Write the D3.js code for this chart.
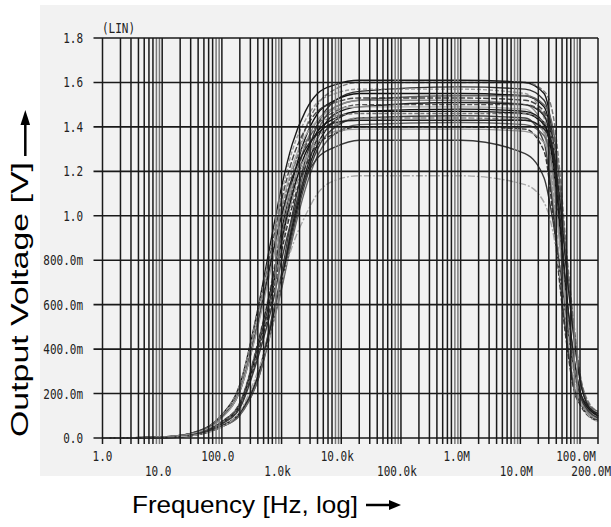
<!DOCTYPE html>
<html>
<head>
<meta charset="utf-8">
<script src="https://cdn.jsdelivr.net/npm/d3@7"></script>
<style>
  body { margin: 0; background: #fff; }
  .mono { font-family: "DejaVu Sans Mono", monospace; font-size: 11px; fill: #222; }
  .title { font-family: "Liberation Sans", Arial, sans-serif; font-size: 24px; fill: #000; }
</style>
</head>
<body>
<div id="chart"></div>
<script>
const freqs = [1, 10, 30, 100, 200, 400, 700, 1e3, 1.5e3, 2.5e3, 4e3, 8e3, 2e4,
               1e6, 1.2e7, 2.5e7, 3.5e7, 4.5e7, 6e7, 8e7, 1e8, 1.4e8, 2e8];

// Output voltage (V) of every run, one row per run
const runs = [
  [0,.005,.021,.105,.24,.58,.92,1.13,1.32,1.47,1.55,1.59,1.61, 1.61,1.60,1.55,1.35,1.03,.64,.35,.21,.14,.10],
  [0,.003,.016,.075,.16,.43,.72,.96,1.18,1.39,1.50,1.57,1.60, 1.60,1.60,1.56,1.46,1.22,.83,.50,.29,.16,.12],
  [0,.002,.011,.055,.114,.28,.55,.74,1.00,1.25,1.41,1.52,1.56, 1.58,1.57,1.52,1.33,1.01,.63,.35,.21,.13,.10],
  [0,.005,.020,.102,.24,.57,.89,1.10,1.29,1.43,1.51,1.55,1.57, 1.57,1.55,1.44,1.13,.80,.47,.24,.17,.11,.086],
  [0,.003,.016,.073,.155,.42,.70,.93,1.15,1.35,1.46,1.52,1.55, 1.55,1.54,1.49,1.30,.99,.62,.34,.20,.13,.10],
  [0,.002,.011,.054,.111,.28,.54,.72,.97,1.22,1.38,1.49,1.52, 1.54,1.54,1.50,1.40,1.17,.80,.48,.28,.15,.12],
  [0,.005,.020,.099,.23,.55,.87,1.07,1.25,1.39,1.47,1.51,1.53, 1.53,1.52,1.47,1.29,.98,.61,.34,.20,.13,.10],
  [0,.003,.015,.071,.152,.41,.68,.91,1.12,1.32,1.43,1.49,1.52, 1.52,1.50,1.40,1.09,.78,.46,.23,.17,.11,.084],
  [0,.002,.011,.053,.109,.27,.53,.71,.95,1.19,1.35,1.46,1.49, 1.51,1.50,1.45,1.27,.97,.60,.33,.20,.13,.098],
  [0,.003,.015,.071,.15,.41,.68,.90,1.11,1.31,1.41,1.47,1.50, 1.50,1.50,1.46,1.37,1.14,.78,.47,.27,.15,.11],
  [0,.004,.019,.097,.22,.54,.85,1.04,1.22,1.36,1.43,1.48,1.49, 1.49,1.48,1.37,1.07,.76,.45,.22,.16,.10,.082],
  [0,.001,.010,.052,.107,.27,.52,.70,.93,1.17,1.32,1.43,1.47, 1.48,1.47,1.42,1.24,.95,.59,.33,.19,.13,.096],
  [0,.003,.015,.069,.147,.40,.66,.88,1.09,1.28,1.38,1.44,1.47, 1.47,1.46,1.41,1.23,.94,.59,.32,.19,.12,.096],
  [0,.004,.019,.095,.22,.53,.83,1.02,1.20,1.33,1.40,1.45,1.46, 1.46,1.46,1.42,1.33,1.11,.76,.45,.26,.15,.11],
  [0,.001,.010,.051,.104,.26,.51,.68,.91,1.15,1.30,1.40,1.44, 1.45,1.44,1.33,1.04,.74,.44,.22,.16,.10,.080],
  [0,.003,.014,.068,.144,.39,.65,.86,1.07,1.25,1.35,1.41,1.44, 1.44,1.43,1.38,1.21,.92,.58,.32,.19,.12,.094],
  [0,.004,.019,.093,.21,.51,.82,1.00,1.17,1.30,1.37,1.42,1.43, 1.43,1.43,1.39,1.30,1.09,.74,.44,.26,.14,.11],
  [0,.001,.010,.050,.102,.26,.50,.67,.89,1.12,1.27,1.37,1.41, 1.42,1.41,1.36,1.19,.91,.57,.31,.18,.12,.092],
  [0,.003,.014,.066,.14,.38,.63,.84,1.04,1.22,1.32,1.37,1.40, 1.40,1.39,1.29,1.01,.71,.42,.21,.15,.098,.077],
  [0,.004,.018,.090,.21,.50,.79,.97,1.14,1.26,1.33,1.38,1.39, 1.39,1.38,1.33,1.17,.89,.56,.31,.18,.12,.090],
  [0,.003,.013,.063,.134,.36,.60,.80,.99,1.17,1.26,1.31,1.34, 1.34,1.28,1.17,.98,.78,.52,.30,.19,.12,.09],
  [0,.002,.01,.05,.12,.30,.50,.70,.86,1.00,1.10,1.16,1.18, 1.18,1.14,1.06,.93,.75,.50,.28,.17,.10,.075]
];

const runColors = ["#1a1a1a","#777","#333","#999","#111","#666","#444","#888","#222","#555","#aaa",
                   "#1a1a1a","#111","#777","#444","#888","#222","#666","#333","#999","#3a3a3a","#a8a8a8"];
const runDash = [null,"5,2",null,"4,2",null,null,"6,2",null,null,"5,2",null,
                 null,null,"4,2",null,"6,2",null,null,"5,2",null,null,"7,2,2,2"];

// Axis ticks
const yTicks = [0, 0.2, 0.4, 0.6, 0.8, 1.0, 1.2, 1.4, 1.6, 1.8];
const yTickLabels = ["0.0","200.0m","400.0m","600.0m","800.0m","1.0","1.2","1.4","1.6","1.8"];
const xTicksRow1 = [1, 100, 1e4, 1e6, 1e8];
const xLabelsRow1 = ["1.0","100.0","10.0k","1.0M","100.0M"];
const xTicksRow2 = [10, 1e3, 1e5, 1e7, 2e8];
const xLabelsRow2 = ["10.0","1.0k","100.0k","10.0M","200.0M"];

const width = 611, height = 527;

const svg = d3.select("#chart").append("svg")
    .attr("width", width)
    .attr("height", height);

// grey simulator panel
svg.append("rect")
    .attr("x", 40).attr("y", 5)
    .attr("width", 571).attr("height", 471)
    .attr("fill", "#f2f2f2");

const x = d3.scaleLog().domain([1, 2e8]).range([102.5, 598]);
const y = d3.scaleLinear().domain([0, 1.8]).range([438, 38]);

// curves
const line = d3.line()
    .x((d, i) => x(freqs[i]))
    .y(d => y(d))
    .curve(d3.curveMonotoneX);

svg.append("g").selectAll("path")
    .data(runs)
    .enter().append("path")
    .attr("d", d => line(d))
    .attr("fill", "none")
    .attr("stroke", (d, i) => runColors[i])
    .attr("stroke-dasharray", (d, i) => runDash[i])
    .attr("stroke-width", 1.4);

// vertical grid: every 1..9 per decade up to 200M
const vLines = [];
for (let e = 0; e <= 8; e++) {
    for (let m = 1; m <= 9; m++) {
        const f = m * Math.pow(10, e);
        if (f <= 2e8) vLines.push({ f: f, m: m });
    }
}
svg.append("g").selectAll("line")
    .data(vLines)
    .enter().append("line")
    .attr("x1", d => x(d.f)).attr("x2", d => x(d.f))
    .attr("y1", y(1.8)).attr("y2", y(0) + 6)
    .attr("stroke", d => d.m >= 8 ? "#7a7a7a" : "#1a1a1a")
    .attr("stroke-width", 1.5);

// horizontal grid
svg.append("g").selectAll("line")
    .data(yTicks)
    .enter().append("line")
    .attr("x1", x(1) - 9).attr("x2", x(2e8))
    .attr("y1", d => y(d)).attr("y2", d => y(d))
    .attr("stroke", "#1a1a1a")
    .attr("stroke-width", 1.6);

// y tick labels (tall pixel-ish font)
svg.append("g").selectAll("text")
    .data(yTicks)
    .enter().append("text")
    .attr("class", "mono")
    .attr("transform", d => `translate(83, ${y(d) + 5}) scale(1, 1.3)`)
    .attr("text-anchor", "end")
    .text((d, i) => yTickLabels[i]);

svg.append("text")
    .attr("class", "mono")
    .attr("font-size", "10px")
    .attr("transform", `translate(102, 33) scale(1, 1.3)`)
    .text("(LIN)");

// x tick labels, two staggered rows
function xRow(ticks, labels, base) {
    svg.append("g").selectAll("text")
        .data(ticks)
        .enter().append("text")
        .attr("class", "mono")
        .attr("transform", (d, i) => {
            const last = d === 2e8;
            const px = last ? 611 : x(d) - (i === 0 && base < 465 ? 0 : 4);
            return `translate(${px}, ${base}) scale(1, 1.3)`;
        })
        .attr("text-anchor", d => d === 2e8 ? "end" : "middle")
        .text((d, i) => labels[i]);
}
xRow(xTicksRow1, xLabelsRow1, 461);
xRow(xTicksRow2, xLabelsRow2, 476);

// axis titles
svg.append("text")
    .attr("class", "title")
    .attr("x", 132).attr("y", 513)
    .attr("textLength", 226)
    .attr("lengthAdjust", "spacingAndGlyphs")
    .text("Frequency [Hz, log]");

svg.append("line")
    .attr("x1", 366).attr("x2", 392)
    .attr("y1", 505).attr("y2", 505)
    .attr("stroke", "#000").attr("stroke-width", 2.5);
svg.append("path")
    .attr("d", "M401,505 L389,500 L389,510 Z")
    .attr("fill", "#000");

svg.append("text")
    .attr("class", "title")
    .attr("transform", "translate(28, 299.5) rotate(-90)")
    .attr("text-anchor", "middle")
    .attr("font-size", "25px")
    .attr("textLength", 275)
    .attr("lengthAdjust", "spacingAndGlyphs")
    .text("Output Voltage [V]");

svg.append("line")
    .attr("x1", 25.3).attr("x2", 25.3)
    .attr("y1", 156).attr("y2", 122)
    .attr("stroke", "#000").attr("stroke-width", 2.5);
svg.append("path")
    .attr("d", "M25.3,110 L20.5,125 L30.1,125 Z")
    .attr("fill", "#000");
</script>
</body>
</html>
